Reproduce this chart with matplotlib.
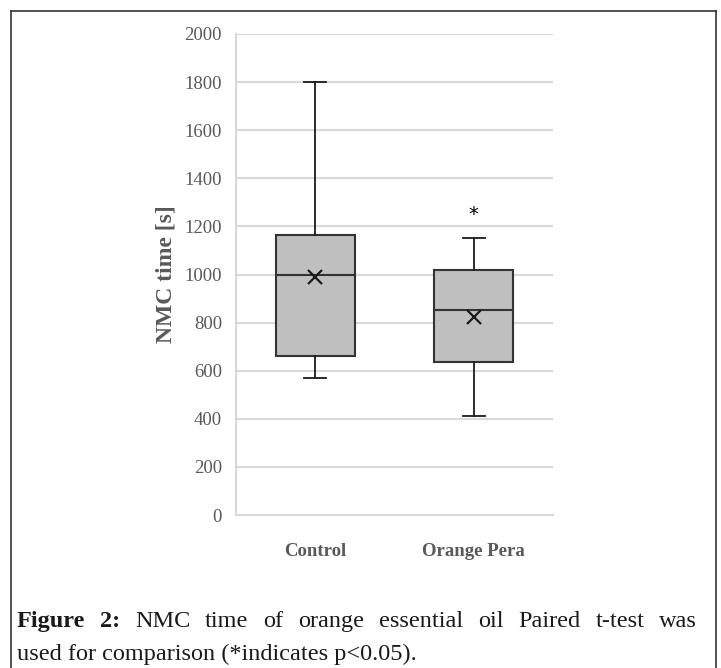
import numpy as np
import matplotlib.pyplot as plt
from matplotlib.lines import Line2D

# box statistics
groups = ['Control', 'Orange Pera']
whislo = [570, 413]
q1 = [661, 638]
med = [1000, 852]
q3 = [1165, 1017]
whishi = [1800, 1150]
means = [990, 825]
sig_y = 1250  # asterisk position over Orange Pera

yticks = [0, 200, 400, 600, 800, 1000, 1200, 1400, 1600, 1800, 2000]

W, H = 721, 668
fig = plt.figure(figsize=(W / 100, H / 100), dpi=100)
ax = fig.add_axes([236 / W, (H - 515) / H, 317 / W, 481 / H])

stats = []
for i in range(len(groups)):
    stats.append(dict(label=groups[i], whislo=whislo[i], q1=q1[i], med=med[i],
                      q3=q3[i], whishi=whishi[i], mean=means[i], fliers=[]))

ax.bxp(stats, positions=[1, 2], widths=0.5, patch_artist=True, showmeans=True,
       boxprops=dict(facecolor='#bfbfbf', edgecolor='#333333', linewidth=1.5),
       medianprops=dict(color='#333333', linewidth=1.5),
       whiskerprops=dict(color='#1a1a1a', linewidth=1.3),
       capprops=dict(color='#1a1a1a', linewidth=1.3),
       capwidths=0.14,
       meanprops=dict(marker='x', markeredgecolor='#1a1a1a', markersize=10, markeredgewidth=1.6))

ax.text(2, sig_y, '*', ha='center', va='center', fontsize=14, color='black')

ax.set_xlim(0.5, 2.5)
ax.set_ylim(0, 2000)
ax.set_yticks(yticks)
ax.yaxis.grid(True, color='#d9d9d9', linewidth=1.5)
ax.set_axisbelow(True)
for s in ['top', 'right']:
    ax.spines[s].set_visible(False)
ax.spines['left'].set_color('#d9d9d9')
ax.spines['left'].set_linewidth(1.5)
ax.spines['bottom'].set_color('#d9d9d9')
ax.spines['bottom'].set_linewidth(1.5)
ax.tick_params(length=0)
ax.tick_params(axis='y', pad=10)
ax.tick_params(axis='x', pad=20)
for t in ax.get_yticklabels():
    t.set_fontfamily('Liberation Serif')
    t.set_fontsize(13.5)
    t.set_color('#595959')
ax.set_xticks([1, 2])
ax.set_xticklabels(groups, fontfamily='Liberation Serif', fontsize=13.5,
                   fontweight='bold', color='#595959')
ax.set_ylabel('NMC time [s]', fontfamily='Liberation Serif', fontsize=17,
              fontweight='bold', color='#595959', labelpad=6)

# outer frame of the figure panel
frame = dict(color='#333333', linewidth=1.2, transform=None)
fig.add_artist(Line2D([11, 11], [0, H - 11], **frame))
fig.add_artist(Line2D([11, 716], [H - 11, H - 11], **frame))
fig.add_artist(Line2D([716, 716], [0, H - 11], **frame))

# caption, first line justified
words1 = ['Figure', '2:', 'NMC', 'time', 'of', 'orange', 'essential', 'oil',
          'Paired', 't-test', 'was']
bold = [True, True] + [False] * 9
line2 = 'used for comparison (*indicates p<0.05).'
cap_size = 17.5
x0, x1 = 17, 697
r = fig.canvas.get_renderer()
texts = []
for w, b in zip(words1, bold):
    t = fig.text(0, (H - 627) / H, w, fontfamily='Liberation Serif', fontsize=cap_size,
                 fontweight='bold' if b else 'normal', color='#1a1a1a', va='baseline')
    texts.append(t)
widths = [t.get_window_extent(r).width for t in texts]
gap = (x1 - x0 - sum(widths)) / (len(texts) - 1)
x = x0
for t, w in zip(texts, widths):
    t.set_x(x / W)
    x += w + gap
fig.text(x0 / W, (H - 660) / H, line2, fontfamily='Liberation Serif', fontsize=cap_size,
         color='#1a1a1a', va='baseline')

fig.savefig('out.png', dpi=100)
